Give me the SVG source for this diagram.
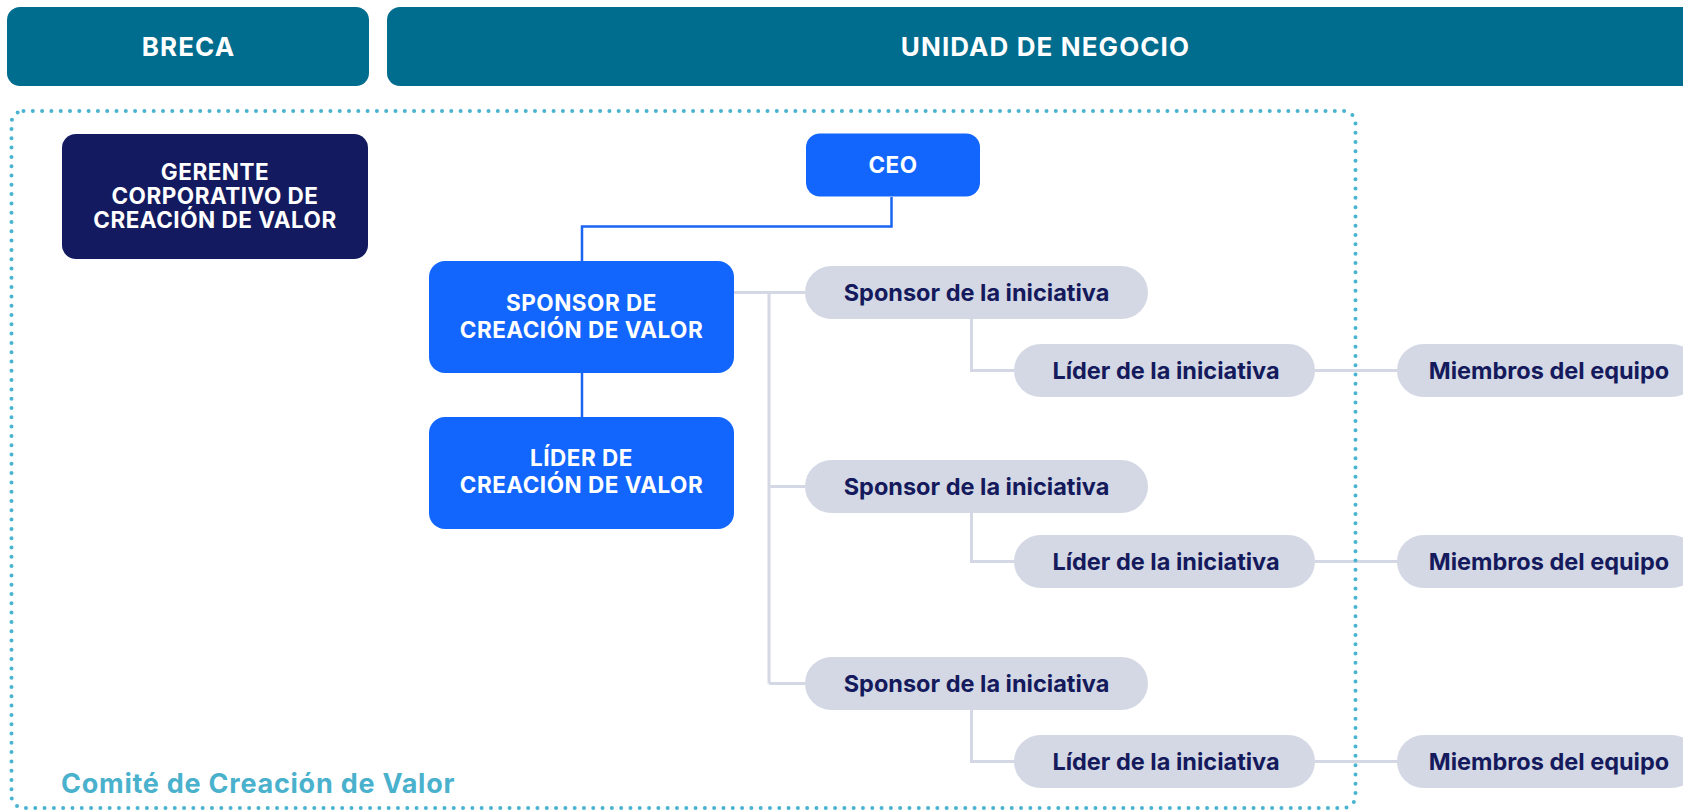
<svg xmlns="http://www.w3.org/2000/svg" width="1683" height="811" viewBox="0 0 1683 811">
  <style>
    text { font-family: Inter, "Open Sans", "Liberation Sans", sans-serif; font-weight: 700; }
    .hdr { fill: #006c8e; }
    .hdrt { fill: #ffffff; font-size: 26px; text-anchor: middle; letter-spacing: 1.1px; }
    .blue { fill: #1266fe; }
    .navy { fill: #131a5f; }
    .wt { fill: #ffffff; font-size: 22.5px; text-anchor: middle; letter-spacing: 0.5px; }
    .pill { fill: #d3d8e4; }
    .pt { fill: #141a5c; font-size: 23.5px; text-anchor: middle; }
    .gline { fill: none; stroke: #d3d8e4; stroke-width: 3; }
    .bline { fill: none; stroke: #1a66f2; stroke-width: 2.5; }
    .dots { fill: none; stroke: #4ab3cf; stroke-width: 4; stroke-dasharray: 0 9.3; stroke-linecap: round; }
    .cap { fill: #4ab1cd; font-size: 27px; font-weight: 700; letter-spacing: 0.75px; }
  </style>

  <g id="header-breca">
    <rect class="hdr" x="7" y="7" width="362" height="79" rx="13"/>
    <text class="hdrt" x="188.5" y="56">BRECA</text>
  </g>
  <g id="header-unidad">
    <rect class="hdr" x="387" y="7" width="1316" height="79" rx="13"/>
    <text class="hdrt" x="1045.5" y="56">UNIDAD DE NEGOCIO</text>
  </g>

  <g id="connectors">
    <path class="bline" d="M891.5 197 V226.5 H582 V261"/>
    <path class="bline" d="M582 373 V417"/>
    <path class="gline" d="M734 292.5 H805"/>
    <path class="gline" d="M769 292.5 V683.5"/>
    <path class="gline" d="M769 486.5 H805"/>
    <path class="gline" d="M769 683.5 H805"/>
    <path class="gline" d="M971.5 319 V370.5 H1014"/>
    <path class="gline" d="M971.5 513 V561.5 H1014"/>
    <path class="gline" d="M971.5 710 V761.5 H1014"/>
    <path class="gline" d="M1315 370.5 H1397"/>
    <path class="gline" d="M1315 561.5 H1397"/>
    <path class="gline" d="M1315 761.5 H1397"/>
  </g>

  <g id="comite">
    <rect class="dots" x="11.5" y="111" width="1344" height="697" rx="12"/>
    <text class="cap" x="61" y="793">Comité de Creación de Valor</text>
  </g>

  <g id="gerente">
    <rect class="navy" x="62" y="134" width="306" height="125" rx="14"/>
    <text class="wt" x="215" y="180">GERENTE</text>
    <text class="wt" x="215" y="204">CORPORATIVO DE</text>
    <text class="wt" x="215" y="228">CREACIÓN DE VALOR</text>
  </g>

  <g id="ceo">
    <rect class="blue" x="806" y="133.5" width="174" height="63" rx="14"/>
    <text class="wt" x="893" y="172.7">CEO</text>
  </g>

  <g id="sponsor-cv">
    <rect class="blue" x="429" y="261" width="305" height="112" rx="16"/>
    <text class="wt" x="581.5" y="310.7">SPONSOR DE</text>
    <text class="wt" x="581.5" y="337.7">CREACIÓN DE VALOR</text>
  </g>

  <g id="lider-cv">
    <rect class="blue" x="429" y="417" width="305" height="112" rx="16"/>
    <text class="wt" x="581.5" y="466">LÍDER DE</text>
    <text class="wt" x="581.5" y="493">CREACIÓN DE VALOR</text>
  </g>

  <g id="sponsor-1">
    <rect class="pill" x="805" y="266" width="343" height="53" rx="26.5"/>
    <text class="pt" x="976.5" y="301">Sponsor de la iniciativa</text>
  </g>
  <g id="lider-1">
    <rect class="pill" x="1014" y="344" width="301" height="53" rx="26.5"/>
    <text class="pt" x="1166" y="379">Líder de la iniciativa</text>
  </g>
  <g id="miembros-1">
    <rect class="pill" x="1397" y="344" width="301" height="53" rx="26.5"/>
    <text class="pt" x="1549" y="379">Miembros del equipo</text>
  </g>

  <g id="sponsor-2">
    <rect class="pill" x="805" y="460" width="343" height="53" rx="26.5"/>
    <text class="pt" x="976.5" y="495">Sponsor de la iniciativa</text>
  </g>
  <g id="lider-2">
    <rect class="pill" x="1014" y="535" width="301" height="53" rx="26.5"/>
    <text class="pt" x="1166" y="570">Líder de la iniciativa</text>
  </g>
  <g id="miembros-2">
    <rect class="pill" x="1397" y="535" width="301" height="53" rx="26.5"/>
    <text class="pt" x="1549" y="570">Miembros del equipo</text>
  </g>

  <g id="sponsor-3">
    <rect class="pill" x="805" y="657" width="343" height="53" rx="26.5"/>
    <text class="pt" x="976.5" y="692">Sponsor de la iniciativa</text>
  </g>
  <g id="lider-3">
    <rect class="pill" x="1014" y="735" width="301" height="53" rx="26.5"/>
    <text class="pt" x="1166" y="770">Líder de la iniciativa</text>
  </g>
  <g id="miembros-3">
    <rect class="pill" x="1397" y="735" width="301" height="53" rx="26.5"/>
    <text class="pt" x="1549" y="770">Miembros del equipo</text>
  </g>
</svg>
